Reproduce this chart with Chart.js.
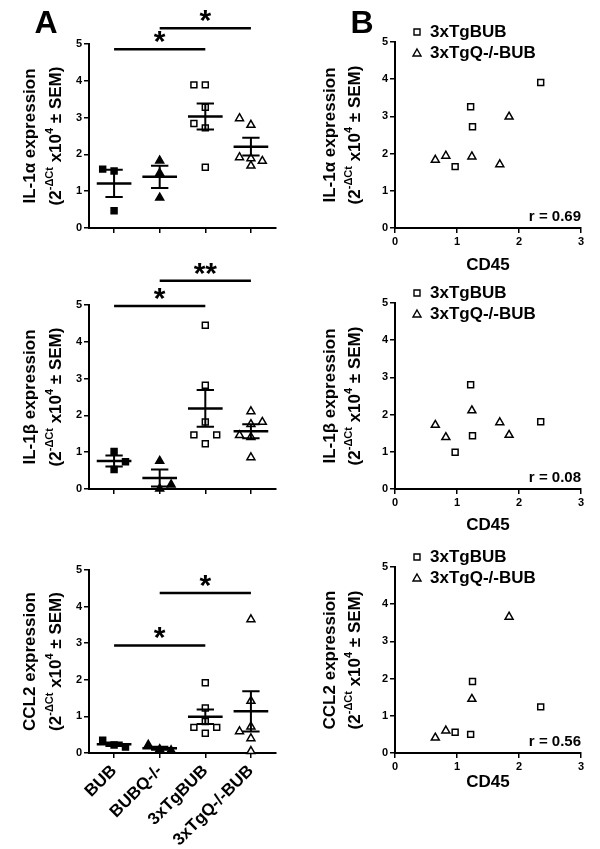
<!DOCTYPE html>
<html><head><meta charset="utf-8">
<script src="https://cdn.jsdelivr.net/npm/chart.js@4.4.1/dist/chart.umd.min.js"></script>
<style>
html,body{margin:0;padding:0;background:#fff}
body{width:600px;height:849px;position:relative;overflow:hidden}
canvas{position:absolute}
</style></head><body>
<canvas id="a1"></canvas><canvas id="b1"></canvas>
<canvas id="a2"></canvas><canvas id="b2"></canvas>
<canvas id="a3"></canvas><canvas id="b3"></canvas>
<script>
// ================= DATA =================
const groups = ['BUB', 'BUBQ-/-', '3xTgBUB', '3xTgQ-/-BUB'];
const expressionTicks = [0, 1, 2, 3, 4, 5];
const cd45Ticks = [0, 1, 2, 3];
const seriesNames = ['3xTgBUB', '3xTgQ-/-BUB'];
const unitParts = ['(2', '-ΔCt', ' x10', '4', ' ± SEM)']; // normal, superscript, normal, superscript, normal

// IL-1alpha (panel A, top)
const il1aBUB  = [1.60, 1.55, 0.47];
const il1aBUBQ = [1.83, 1.49, 0.82];
const il1aTg   = [3.89, 3.89, 3.28, 2.84, 2.72, 1.65];
const il1aTgQ  = [2.98, 2.80, 1.92, 1.89, 1.82, 1.69];
const il1aSlots = [[-1, 0, 0], [0, 0, 0], [-1, 0, 0, -1, 0, 0], [-1, 0, -1, 0, 1, 0]];
const il1aMean = [1.21, 1.39, 3.03, 2.21];
const il1aSem  = [0.37, 0.30, 0.35, 0.24];
const il1aSigFrom = [0, 1], il1aSigTo = [2, 3], il1aSigY = [4.86, 5.43], il1aSigText = ['*', '*'];

// IL-1beta (panel A, middle)
const il1bBUB  = [1.02, 0.74, 0.53];
const il1bBUBQ = [0.76, 0.12, 0.01];
const il1bTg   = [4.45, 2.82, 1.82, 1.47, 1.47, 1.23];
const il1bTgQ  = [2.11, 1.82, 1.76, 1.46, 1.41, 0.86];
const il1bSlots = [[0, 1, 0], [0, 1, 0], [0, 0, 0, -1, 1, 0], [0, 1, 0, -1, 0, 0]];
const il1bMean = [0.76, 0.30, 2.19, 1.57];
const il1bSem  = [0.15, 0.23, 0.50, 0.19];
const il1bSigFrom = [0, 1], il1bSigTo = [2, 3], il1bSigY = [4.97, 5.66], il1bSigText = ['*', '**'];

// CCL2 (panel A, bottom)
const ccl2BUB  = [0.35, 0.22, 0.16];
const ccl2BUBQ = [0.22, 0.10, 0.07];
const ccl2Tg   = [1.92, 1.23, 0.86, 0.70, 0.70, 0.54];
const ccl2TgQ  = [3.65, 1.42, 0.72, 0.59, 0.40, 0.05];
const ccl2Slots = [[-1, 0, 1], [-1, 0, 1], [0, 0, 0, -1, 1, 0], [0, 0, 0, -1, 0, 0]];
const ccl2Mean = [0.24, 0.13, 0.99, 1.14];
const ccl2Sem  = [0.05, 0.04, 0.20, 0.55];
const ccl2SigFrom = [0, 1], ccl2SigTo = [2, 3], ccl2SigY = [2.94, 4.37], ccl2SigText = ['*', '*'];

// Panel B: CD45 vs expression
const tgCd45  = [2.35, 1.22, 1.25, 0.97];
const tgqCd45 = [0.65, 0.82, 1.24, 1.69, 1.84];
const il1aTgB  = [3.91, 3.26, 2.72, 1.65];
const il1aTgqB = [1.83, 1.94, 1.92, 1.71, 2.99];
const il1bTgB  = [1.81, 2.80, 1.43, 0.99];
const il1bTgqB = [1.72, 1.39, 2.11, 1.79, 1.45];
const ccl2TgCd45  = [1.25, 2.35, 0.97, 1.22];
const ccl2TgB     = [1.92, 1.24, 0.56, 0.50];
const ccl2TgqCd45 = [1.84, 1.24, 0.82, 0.65];
const ccl2TgqB    = [3.66, 1.45, 0.60, 0.41];
const rValues = ['r = 0.69', 'r = 0.08', 'r = 0.56'];

// ================= STYLE / LAYOUT =================
const FONT = "'Liberation Sans', Arial, Helvetica, sans-serif";
Chart.defaults.font.family = FONT;
Chart.defaults.color = '#000';
Chart.defaults.animation = false;
const JIT = 0.25, MEAN_HALF = 0.38, CAP_HALF = 0.19;
const groupStyle = [
  {ps: 'rect', r: 4.2, fill: '#000'},
  {ps: 'triangle', r: 4.6, fill: '#000'},
  {ps: 'rect', r: 4.2, fill: '#fff'},
  {ps: 'triangle', r: 4.6, fill: '#fff'}
];

const decor = {
  id: 'decor',
  afterDraw(chart, args, o) {
    const ctx = chart.ctx, ca = chart.chartArea;
    ctx.save();
    ctx.fillStyle = '#000';
    ctx.strokeStyle = '#000';
    // significance stars
    if (o.sig) {
      const xs = chart.scales.x, ys = chart.scales.y;
      ctx.font = 'bold 30px ' + FONT;
      ctx.textAlign = 'center'; ctx.textBaseline = 'alphabetic';
      o.sig.from.forEach((f, i) => {
        const x = xs.getPixelForValue((f + o.sig.to[i]) / 2);
        const y = ys.getPixelForValue(o.sig.y[i]);
        ctx.fillText(o.sig.text[i], x, y + 2);
      });
    }
    // y-axis title (two lines, second with superscripts)
    const yc = (ca.top + ca.bottom) / 2;
    ctx.save();
    ctx.translate(o.tx1, yc); ctx.rotate(-Math.PI / 2);
    ctx.font = 'bold 17px ' + FONT; ctx.textAlign = 'center'; ctx.textBaseline = 'middle';
    ctx.fillText(o.title, 0, 0);
    ctx.restore();
    ctx.save();
    ctx.translate(o.tx2, yc); ctx.rotate(-Math.PI / 2);
    ctx.textBaseline = 'middle'; ctx.textAlign = 'left';
    const fN = 'bold 17px ' + FONT, fS = 'bold 11px ' + FONT;
    let total = 0;
    unitParts.forEach((t, i) => { ctx.font = i % 2 ? fS : fN; total += ctx.measureText(t).width; });
    let x = -total / 2;
    unitParts.forEach((t, i) => {
      ctx.font = i % 2 ? fS : fN;
      ctx.fillText(t, x, i % 2 ? -6 : 0);
      x += ctx.measureText(t).width;
    });
    ctx.restore();
    // panel letter
    if (o.letter) {
      ctx.font = 'bold 32px ' + FONT; ctx.textAlign = 'center'; ctx.textBaseline = 'alphabetic';
      ctx.fillText(o.letter, o.letterX, o.letterY);
    }
    // legend (panel B)
    if (o.legend) {
      ctx.lineWidth = 1.4;
      const mx = ca.left + 22, tx = ca.left + 35;
      const rows = [ca.top - 10, ca.top + 11];
      ctx.fillStyle = '#fff';
      ctx.beginPath(); ctx.rect(mx - 3, rows[0] - 3, 6, 6); ctx.fill(); ctx.stroke();
      ctx.beginPath();
      ctx.moveTo(mx, rows[1] - 4); ctx.lineTo(mx + 4, rows[1] + 3); ctx.lineTo(mx - 4, rows[1] + 3); ctx.closePath();
      ctx.fill(); ctx.stroke();
      ctx.fillStyle = '#000';
      ctx.font = 'bold 17px ' + FONT; ctx.textAlign = 'left'; ctx.textBaseline = 'middle';
      ctx.fillText(seriesNames[0], tx, rows[0]);
      ctx.fillText(seriesNames[1], tx, rows[1]);
    }
    if (o.r) {
      ctx.font = 'bold 15px ' + FONT; ctx.textAlign = 'right'; ctx.textBaseline = 'middle';
      ctx.fillText(o.r, ca.right, ca.bottom - 11);
    }
    ctx.restore();
  }
};

function place(id, left, top, w, h) {
  const c = document.getElementById(id);
  c.style.left = left + 'px'; c.style.top = top + 'px';
  c.style.width = w + 'px'; c.style.height = h + 'px';
  c.width = w; c.height = h;
  return c;
}

function yScale(chartLeft) {
  return {
    type: 'linear', min: 0, max: 5,
    afterBuildTicks: s => { s.ticks = expressionTicks.map(v => ({value: v})); },
    afterFit: s => { s.width = chartLeft; },
    ticks: {font: {size: 11, weight: 'bold'}, color: '#000', padding: 2},
    grid: {drawOnChartArea: false, drawTicks: true, tickLength: 5, color: '#000', lineWidth: 1.5},
    border: {display: true, color: '#000', width: 2}
  };
}

function dotPanel(spec) {
  const {id, top, h, chartTop, chartBottom} = spec;
  const W = 290, chartLeft = 89, chartRight = 276;
  const canvas = place(id, 0, top, W, h);
  const datasets = [];
  const meanPts = [], semPts = [];
  spec.mean.forEach((m, i) => {
    const s = spec.sem[i];
    meanPts.push({x: i - MEAN_HALF, y: m}, {x: i + MEAN_HALF, y: m}, {x: i, y: null});
    semPts.push({x: i, y: m - s}, {x: i, y: m + s}, {x: i, y: null},
      {x: i - CAP_HALF, y: m + s}, {x: i + CAP_HALF, y: m + s}, {x: i, y: null},
      {x: i - CAP_HALF, y: m - s}, {x: i + CAP_HALF, y: m - s}, {x: i, y: null});
  });
  datasets.push({type: 'line', label: 'Mean', data: meanPts, borderColor: '#000', borderWidth: 2.5, pointRadius: 0, spanGaps: false, order: 0});
  datasets.push({type: 'line', label: 'SEM', data: semPts, borderColor: '#000', borderWidth: 2, pointRadius: 0, spanGaps: false, order: 1});
  const sigPts = [];
  spec.sig.from.forEach((f, i) => {
    sigPts.push({x: f, y: spec.sig.y[i]}, {x: spec.sig.to[i], y: spec.sig.y[i]}, {x: f, y: null});
  });
  datasets.push({type: 'line', label: 'Significance', data: sigPts, borderColor: '#000', borderWidth: 2.5, pointRadius: 0, spanGaps: false, clip: false, order: 2});
  spec.values.forEach((vals, g) => {
    const st = groupStyle[g];
    datasets.push({
      type: 'scatter', label: groups[g], order: 3,
      data: vals.map((v, k) => ({x: g + spec.slots[g][k] * JIT, y: v})),
      pointStyle: st.ps, pointRadius: st.r, pointHoverRadius: st.r,
      backgroundColor: st.fill, borderColor: '#000', borderWidth: 1.5, clip: false
    });
  });
  new Chart(canvas, {
    type: 'line',
    data: {datasets},
    plugins: [decor],
    options: {
      responsive: false, animation: false, events: [],
      layout: {padding: {left: 0, top: chartTop, right: W - chartRight, bottom: 0}},
      plugins: {legend: {display: false}, tooltip: {enabled: false},
        decor: {sig: spec.sig, title: spec.title, tx1: 30, tx2: 56, letter: spec.letter, letterX: 46, letterY: 33}},
      scales: {
        x: {
          type: 'linear', min: -0.55, max: 3.55,
          afterBuildTicks: s => { s.ticks = groups.map((g, i) => ({value: i})); },
          afterFit: s => { s.height = h - chartBottom; },
          ticks: {display: spec.showCats, callback: v => groups[v], minRotation: 45, maxRotation: 45,
                  font: {size: 17, weight: 'bold'}, color: '#000', padding: 3, autoSkip: false},
          grid: {drawOnChartArea: false, drawTicks: true, tickLength: 5, color: '#000', lineWidth: 1.5},
          border: {display: true, color: '#000', width: 2}
        },
        y: yScale(chartLeft)
      }
    }
  });
}

function corrPanel(spec) {
  const {id, top, h, chartTop, chartBottom} = spec;
  const W = 300, chartLeft = 95, chartRight = 281;
  const canvas = place(id, 300, top, W, h);
  const lh = 17 * 1.2;
  new Chart(canvas, {
    type: 'scatter',
    data: {datasets: [
      {label: seriesNames[0], data: spec.tgX.map((x, i) => ({x, y: spec.tgY[i]})),
       pointStyle: 'rect', pointRadius: 4.2, pointHoverRadius: 4.2, backgroundColor: '#fff', borderColor: '#000', borderWidth: 1.5, clip: false},
      {label: seriesNames[1], data: spec.tgqX.map((x, i) => ({x, y: spec.tgqY[i]})),
       pointStyle: 'triangle', pointRadius: 4.6, pointHoverRadius: 4.6, backgroundColor: '#fff', borderColor: '#000', borderWidth: 1.5, clip: false}
    ]},
    plugins: [decor],
    options: {
      responsive: false, animation: false, events: [],
      layout: {padding: {left: 0, top: chartTop, right: W - chartRight, bottom: 0}},
      plugins: {legend: {display: false}, tooltip: {enabled: false},
        decor: {title: spec.title, tx1: 30, tx2: 55, legend: true, r: spec.r, letter: spec.letter, letterX: 62, letterY: 33}},
      scales: {
        x: {
          type: 'linear', min: 0, max: 3,
          afterBuildTicks: s => { s.ticks = cd45Ticks.map(v => ({value: v})); },
          afterFit: s => { s.height = h - chartBottom; },
          ticks: {font: {size: 11, weight: 'bold'}, color: '#000', padding: 2, maxRotation: 0},
          grid: {drawOnChartArea: false, drawTicks: true, tickLength: 5, color: '#000', lineWidth: 1.5},
          border: {display: true, color: '#000', width: 2},
          title: {display: true, text: 'CD45', font: {size: 17, weight: 'bold'}, color: '#000',
                  padding: {top: 0, bottom: h - lh / 2 - spec.titleY}}
        },
        y: yScale(chartLeft)
      }
    }
  });
}

dotPanel({id: 'a1', top: 0, h: 300, chartTop: 44, chartBottom: 228, letter: 'A',
  values: [il1aBUB, il1aBUBQ, il1aTg, il1aTgQ], slots: il1aSlots, mean: il1aMean, sem: il1aSem,
  sig: {from: il1aSigFrom, to: il1aSigTo, y: il1aSigY, text: il1aSigText}, title: 'IL-1α expression', showCats: false});
dotPanel({id: 'a2', top: 262, h: 300, chartTop: 43, chartBottom: 227,
  values: [il1bBUB, il1bBUBQ, il1bTg, il1bTgQ], slots: il1bSlots, mean: il1bMean, sem: il1bSem,
  sig: {from: il1bSigFrom, to: il1bSigTo, y: il1bSigY, text: il1bSigText}, title: 'IL-1β expression', showCats: false});
dotPanel({id: 'a3', top: 524, h: 325, chartTop: 46, chartBottom: 229,
  values: [ccl2BUB, ccl2BUBQ, ccl2Tg, ccl2TgQ], slots: ccl2Slots, mean: ccl2Mean, sem: ccl2Sem,
  sig: {from: ccl2SigFrom, to: ccl2SigTo, y: ccl2SigY, text: ccl2SigText}, title: 'CCL2 expression', showCats: true});

corrPanel({id: 'b1', top: 0, h: 300, chartTop: 42, chartBottom: 228, titleY: 265, letter: 'B',
  tgX: tgCd45, tgY: il1aTgB, tgqX: tgqCd45, tgqY: il1aTgqB, r: rValues[0], title: 'IL-1α expression'});
corrPanel({id: 'b2', top: 262, h: 300, chartTop: 41, chartBottom: 227, titleY: 263,
  tgX: tgCd45, tgY: il1bTgB, tgqX: tgqCd45, tgqY: il1bTgqB, r: rValues[1], title: 'IL-1β expression'});
corrPanel({id: 'b3', top: 524, h: 325, chartTop: 43, chartBottom: 229, titleY: 258,
  tgX: ccl2TgCd45, tgY: ccl2TgB, tgqX: ccl2TgqCd45, tgqY: ccl2TgqB, r: rValues[2], title: 'CCL2 expression'});
</script>
</body></html>
